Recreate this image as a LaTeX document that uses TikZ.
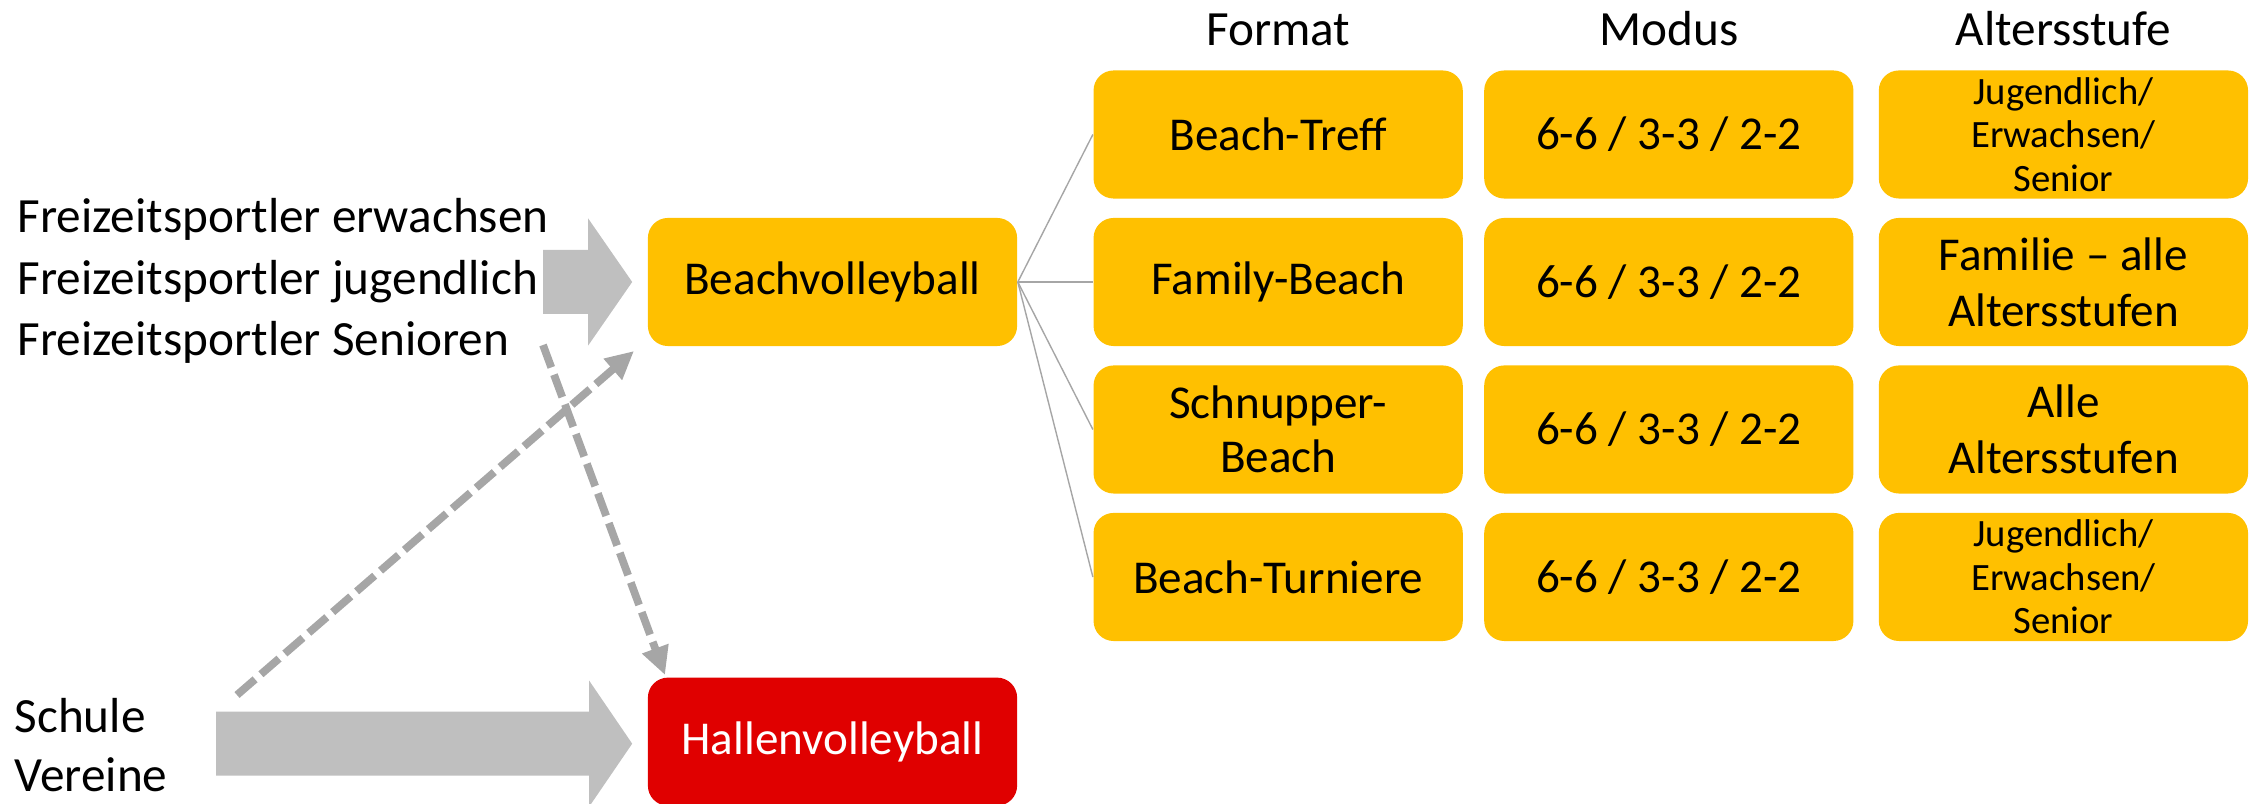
\documentclass[tikz,border=0pt]{standalone}
\usepackage{fontspec}
\setmainfont{Carlito}
\usepackage{xcolor}
\usetikzlibrary{arrows.meta,positioning,calc}
\definecolor{boxyellow}{HTML}{FFC000}
\definecolor{boxred}{HTML}{E00000}
\definecolor{fatgray}{HTML}{BFBFBF}
\definecolor{dashgray}{HTML}{A6A6A6}
\tikzset{%
   box/.style={
      rectangle,
      rounded corners=0.2cm,
      fill=boxyellow,
      minimum width=3.69cm,
      minimum height=1.28cm,
      inner sep=0pt,
      align=center,
      font=\fontsize{13.4}{15}\selectfont
   },
   hbox/.style={
      box,
      fill=boxred,
      text=white
   },
   hd/.style={
      font=\fontsize{14}{16}\selectfont
   },
   lt/.style={
      anchor=west,
      align=left,
      inner sep=0pt,
      font=\fontsize{14}{17}\selectfont
   },
   sm/.style={
      font=\fontsize{11}{12.4}\selectfont
   },
   two/.style={
      font=\fontsize{13.4}{16}\selectfont
   },
   fat/.style={
      fill=fatgray
   },
   dsh/.style={
      draw=dashgray,
      line width=2.2pt,
      dash pattern=on 6.8pt off 2.2pt,
      -{Triangle[length=8pt,width=7.5pt]}
   },
   fan/.style={
      draw=dashgray,
      line width=0.4pt
   },
}
\begin{document}
\begin{tikzpicture}[x=0.01cm, y=-0.01cm]
   \useasboundingbox (0,0) rectangle (2257,804);
   % left column
   \node[box] (bv) at (832.5,282) {Beachvolleyball};
   \node[hbox, below=3.3cm of bv] (hv) {Hallenvolleyball};
   \node[lt, font=\fontsize{14}{17.5}\selectfont] (fz) at (17,281)
      {Freizeitsportler erwachsen\\Freizeitsportler jugendlich\\Freizeitsportler Senioren};
   \node[lt] (sv) at (14,745) {Schule\\Vereine};
   % formats
   \node[box, right=0.75cm of bv] (f2) {Family-Beach};
   \node[box, above=0.18cm of f2] (f1) {Beach-Treff};
   \node[box, below=0.18cm of f2, font=\fontsize{13.4}{15.5}\selectfont] (f3) {Schnupper-\\Beach};
   \node[box, below=0.18cm of f3] (f4) {Beach-Turniere};
   \foreach \i in {1,...,4}
      \node[box, right=0.2cm of f\i] (m\i) {6-6 / 3-3 / 2-2};
   \node[box, sm, right=0.24cm of m1] (a1) {Jugendlich/\\Erwachsen/\\Senior};
   \node[box, two, right=0.24cm of m2] (a2) {Familie -- alle\\Altersstufen};
   \node[box, two, right=0.24cm of m3] (a3) {Alle\\Altersstufen};
   \node[box, sm, right=0.24cm of m4] (a4) {Jugendlich/\\Erwachsen/\\Senior};
   % headers
   \node[hd, above=0.24cm of f1.north, anchor=base] (hf) {Format};
   \node[hd, above=0.24cm of m1.north, anchor=base] (hm) {Modus};
   \node[hd, above=0.24cm of a1.north, anchor=base] (ha) {Altersstufe};
   % fan
   \foreach \i in {1,...,4}
      \draw[fan] (bv.east) -- (f\i.west);
   % block arrows
   \fill[fat] ($(bv.west)+(-15,0)$) -- ++(-44,-63.5) -- ++(0,31.5) -- ++(-45,0)
      -- ++(0,64) -- ++(45,0) -- ++(0,31.5) -- cycle;
   \fill[fat] ($(hv.west)+(-15,2)$) -- ++(-43,-63) -- ++(0,31) -- ++(-373,0)
      -- ++(0,64) -- ++(373,0) -- ++(0,31) -- cycle;
   % dashed arrows
   \coordinate (s0) at (237,695);
   \coordinate (s1) at (634,351);
   \coordinate (t0) at (543,345);
   \coordinate (t1) at (665,675);
   \draw[dsh] (s0) -- (s1);
   \draw[dsh] (t0) -- (t1);
\end{tikzpicture}
\end{document}
